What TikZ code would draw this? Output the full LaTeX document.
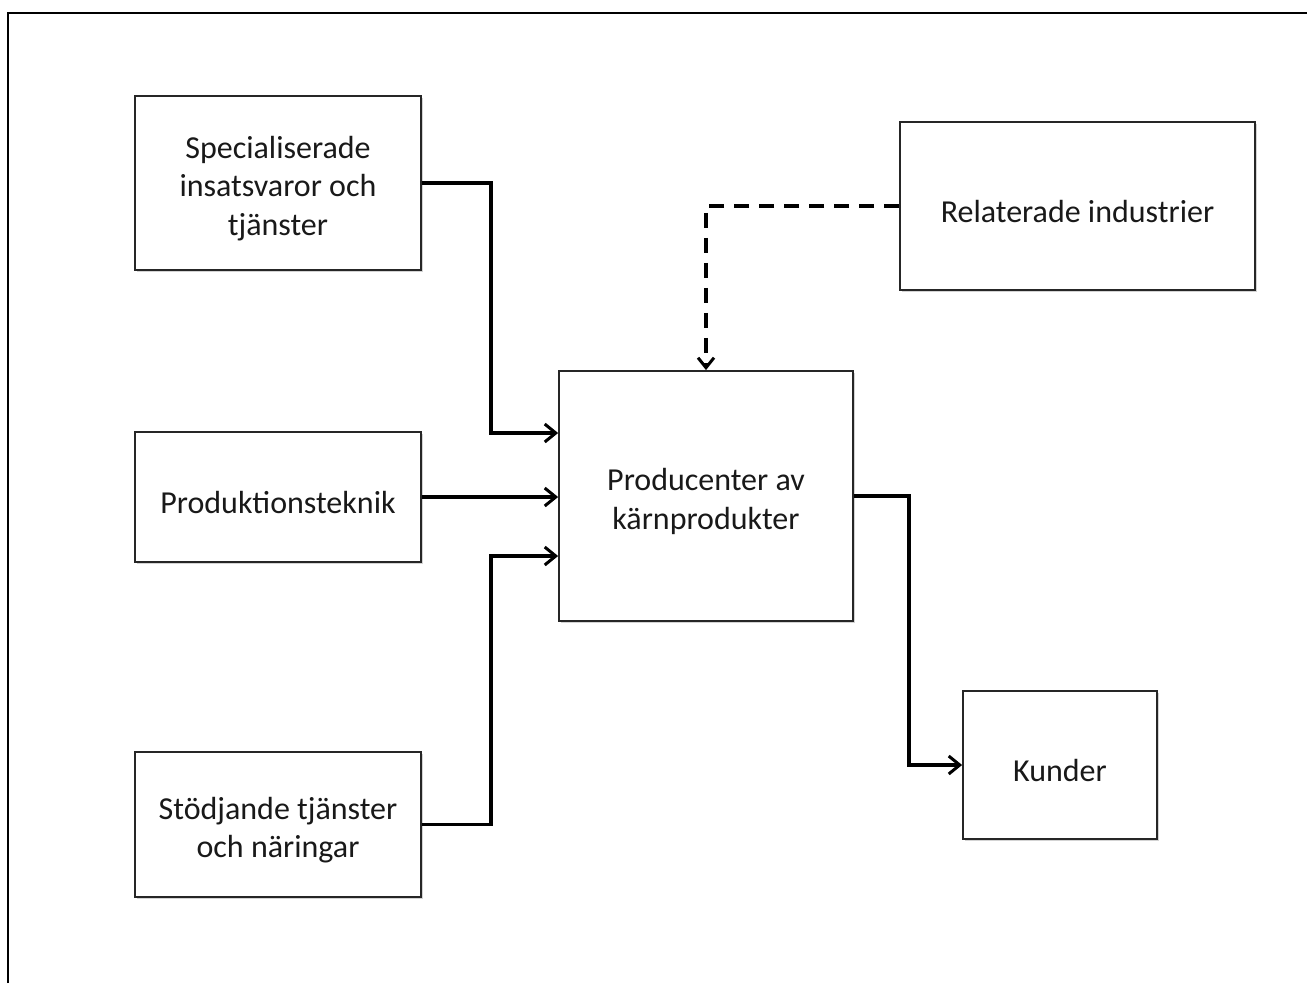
\documentclass[tikz,border=0pt]{standalone}
\usepackage{fontspec}
\setmainfont{Carlito}
\usetikzlibrary{arrows.meta,shadows}
% extra room above the first text line, so labels sit a little low in their boxes
\newcommand\topgap{\rule{0pt}{33pt}}
\begin{document}
\begin{tikzpicture}[x=1pt,y=-1pt,
  box/.style={draw=black!85, line width=1.8pt, fill=white, align=center,
    inner sep=0pt, text=black!90,
    font=\fontsize{32}{38.5}\selectfont,
    drop shadow={shadow xshift=1.5pt, shadow yshift=-1.5pt, opacity=0.35, fill=black!50}},
  flow/.style={line width=3.6pt, -{Straight Barb[length=11pt,width=18pt,line width=3pt]}},
  link/.style={line width=3.6pt, dash pattern=on 15pt off 10pt,
    -{Straight Barb[length=10pt,width=16pt,line width=3pt]}}]
\useasboundingbox (0,0) rectangle (1307,983);
% partial outer frame
\draw[line width=2.8pt] (8,983) -- (8,13) -- (1307,13);
% boxes
\node[box, minimum width=286pt, minimum height=174pt] (spec) at (278,183)
  {\topgap Specialiserade\\insatsvaror och\\tjänster};
\node[box, minimum width=286pt, minimum height=130pt] (prod) at (278,497)
  {\topgap Produktionsteknik};
\node[box, minimum width=286pt, minimum height=145pt] (stod) at (278,824.5)
  {\topgap Stödjande tjänster\\och näringar};
\node[box, minimum width=294pt, minimum height=250pt] (core) at (706,496)
  {\topgap Producenter av\\kärnprodukter};
\node[box, minimum width=355pt, minimum height=168pt] (rel) at (1077.5,206)
  {\topgap Relaterade industrier};
\node[box, minimum width=194pt, minimum height=148pt] (kund) at (1060,765)
  {\topgap Kunder};
% connectors
\draw[flow] (spec.east) -- ++(69,0) |- ([yshift=63pt]core.west);
\draw[flow] (prod.east) -- (prod.east -| core.west);
\draw[flow] (stod.east) -- ++(69,0) |- ([yshift=-60pt]core.west);
\draw[flow] (core.east) -- ++(55,0) |- (kund.west);
\draw[link] (rel.west) -| (core.north);
\end{tikzpicture}
\end{document}
